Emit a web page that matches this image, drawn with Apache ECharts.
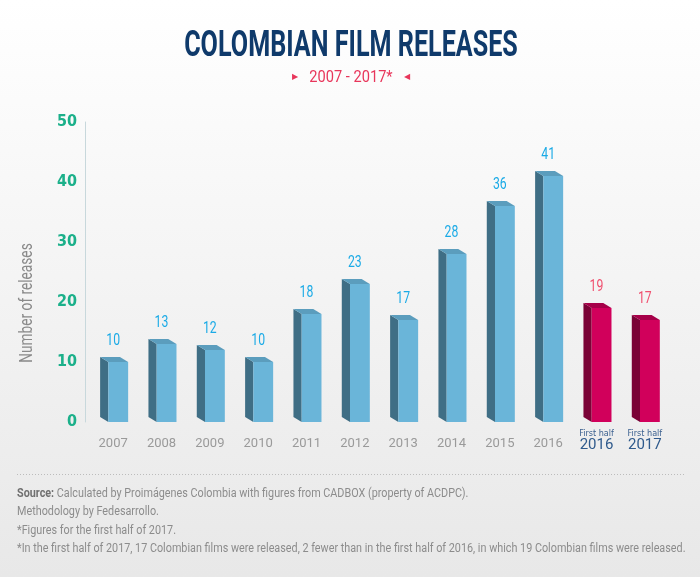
<!DOCTYPE html>
<html>
<head>
<meta charset="utf-8">
<script src="https://cdn.jsdelivr.net/npm/echarts@6/dist/echarts.min.js"></script>
<style>
  html, body { margin: 0; padding: 0; }
  #chart { width: 700px; height: 577px; }
</style>
</head>
<body>
<div id="chart"></div>
<script>
var years = ['2007', '2008', '2009', '2010', '2011', '2012', '2013', '2014', '2015', '2016', '2016', '2017'];
var firstHalf = [false, false, false, false, false, false, false, false, false, false, true, true];
var releases = [10, 13, 12, 10, 18, 23, 17, 28, 36, 41, 19, 17];
var yTicks = [0, 10, 20, 30, 40, 50];

var notes = [
  '{b|Source:} Calculated by Proimágenes Colombia with figures from CADBOX (property of ACDPC).',
  'Methodology by Fedesarrollo.',
  '*Figures for the first half of 2017.',
  '*In the first half of 2017, 17 Colombian films were released, 2 fewer than in the first half of 2016, in which 19 Colombian films were released.'
];

var narrow = '"DejaVu Sans Condensed", sans-serif';

var blue = { front: '#6ab5d9', side: '#3f6e85', top: '#5b9dbd', label: '#1aaae6' };
var pink = { front: '#d1005b', side: '#7a0236', top: '#a60049', label: '#f0506f' };

var chart = echarts.init(document.getElementById('chart'));

function drawBox(params, api) {
  var i = api.value(0);
  var v = api.value(1);
  var top = api.coord([i, v]);
  var base = api.coord([i, 0]);
  var bw = api.size([1, 0])[0];
  var w = bw * 0.41, dx = bw * 0.17, dy = 5;
  var xl = top[0] - bw * 0.1, xr = xl + w;
  var c = firstHalf[i] ? pink : blue;
  return {
    type: 'group',
    children: [
      { type: 'polygon', shape: { points: [[xl, top[1]], [xl - dx, top[1] - dy], [xl - dx, base[1] - dy], [xl, base[1]]] },
        style: { fill: c.side } },
      { type: 'polygon', shape: { points: [[xl, top[1]], [xl - dx, top[1] - dy], [xr - dx, top[1] - dy], [xr, top[1]]] },
        style: { fill: c.top } },
      { type: 'rect', shape: { x: xl, y: top[1], width: w, height: base[1] - top[1] },
        style: { fill: c.front } },
      { type: 'text', x: top[0], y: top[1] - 21, scaleX: 0.72,
        style: { text: String(v), fill: c.label, font: '17px Roboto, sans-serif', align: 'center', verticalAlign: 'middle' } }
    ]
  };
}

var decor = [
  { type: 'text', x: 351, y: 47, scaleX: 0.68,
    style: { text: 'COLOMBIAN FILM RELEASES', fill: '#0f3a6b', font: 'bold 37px Roboto, sans-serif',
      align: 'center', verticalAlign: 'middle' } },
  { type: 'text', x: 351, y: 78, scaleX: 0.86,
    style: { text: '2007 - 2017*', fill: '#e8365b', font: '17px Roboto, sans-serif',
      align: 'center', verticalAlign: 'middle' } },
  { type: 'text', x: 295, y: 77,
    style: { text: '▶', fill: '#e8365b', font: '8px "DejaVu Sans", sans-serif', align: 'center', verticalAlign: 'middle' } },
  { type: 'text', x: 407, y: 77,
    style: { text: '◀', fill: '#e8365b', font: '8px "DejaVu Sans", sans-serif', align: 'center', verticalAlign: 'middle' } },
  { type: 'text', x: 27, y: 303, rotation: Math.PI / 2, scaleX: 0.72,
    style: { text: 'Number of releases', fill: '#8a8a8a', font: '19px Roboto, sans-serif',
      align: 'center', verticalAlign: 'middle' } },
  { type: 'line', shape: { x1: 17, y1: 474.5, x2: 684, y2: 474.5 },
    style: { stroke: '#bcbcbc', lineWidth: 1, lineDash: [1, 2] } }
];
notes.forEach(function (t, k) {
  decor.push({
    type: 'text', x: 17, y: 494 + k * 18.3, scaleX: 0.9,
    style: {
      text: t, fill: '#8c8c8c', font: '12px Roboto, sans-serif', verticalAlign: 'middle',
      rich: { b: { fill: '#707070', fontWeight: 'bold', fontFamily: 'Roboto, sans-serif', fontSize: 12 } }
    }
  });
});

chart.setOption({
  backgroundColor: new echarts.graphic.LinearGradient(0, 0, 0, 1, [
    { offset: 0, color: '#ffffff' }, { offset: 1, color: '#e8e8e8' }
  ]),
  grid: { left: 89, right: 31, top: 122, bottom: 155 },
  xAxis: {
    type: 'category', data: years,
    axisLine: { show: false }, axisTick: { show: false },
    axisLabel: {
      margin: 7, interval: 0,
      formatter: function (val, idx) {
        return firstHalf[idx] ? '{h|First half}\n{y|' + val + '}' : '{n|' + val + '}';
      },
      rich: {
        n: { color: '#9a9a9a', fontSize: 13, fontFamily: 'Roboto, sans-serif', padding: [8, 0, 0, 0] },
        h: { color: '#3c6190', fontSize: 9, fontFamily: narrow, lineHeight: 10 },
        y: { color: '#2f5a8c', fontSize: 15, fontFamily: 'Roboto, sans-serif', lineHeight: 13 }
      }
    }
  },
  yAxis: {
    type: 'value', min: yTicks[0], max: yTicks[yTicks.length - 1], interval: 10, offset: 4,
    axisLine: { show: true, lineStyle: { color: '#c8d8dc', width: 1 } },
    axisTick: { show: false }, splitLine: { show: false },
    axisLabel: { color: '#1bb08a', fontSize: 16, fontWeight: 'bold', fontFamily: narrow, margin: 8 }
  },
  graphic: decor,
  series: [{
    type: 'custom', renderItem: drawBox,
    data: releases.map(function (v, i) { return [i, v]; }),
    clip: false
  }]
});
</script>
</body>
</html>
